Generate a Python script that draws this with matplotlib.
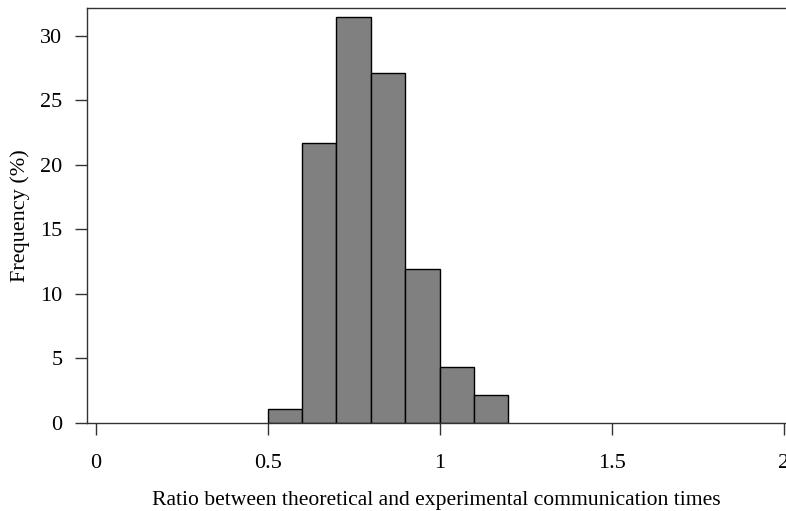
import matplotlib
matplotlib.use('Agg')
import matplotlib.pyplot as plt
import numpy as np

# histogram bins (ratio) and frequency in percent
bin_edges = [0.5, 0.6, 0.7, 0.8, 0.9, 1.0, 1.1, 1.2]
freq_pct = [1.1, 21.7, 31.5, 27.15, 11.9, 4.35, 2.15]
x_ticks = [0, 0.5, 1, 1.5, 2]
x_tick_labels = ['0', '0.5', '1', '1.5', '2']
y_ticks = [0, 5, 10, 15, 20, 25, 30]

plt.rcParams['font.family'] = ['Liberation Serif', 'DejaVu Serif']

fig = plt.figure(figsize=(7.86, 5.11), dpi=100)
ax = fig.add_axes([86.7/786, 88.3/511, 1 - 86.7/786, (422.7 - 8)/511])

lefts = np.array(bin_edges[:-1])
widths = np.diff(bin_edges)
ax.bar(lefts, freq_pct, width=widths, align='edge', color='#808080',
       edgecolor='black', linewidth=1.0)

ax.set_xlim(-0.026, 2.007)
ax.set_ylim(0, 32.17)
ax.set_xticks(x_ticks)
ax.set_xticklabels(x_tick_labels)
ax.set_yticks(y_ticks)

for s in ['left', 'top', 'bottom']:
    ax.spines[s].set_color('#333333')
    ax.spines[s].set_linewidth(1.0)
ax.spines['right'].set_visible(False)

ax.tick_params(axis='both', labelsize=16, length=8.5, width=1.0,
               color='#333333', direction='out')
ax.tick_params(axis='x', pad=14)
ax.tick_params(axis='y', pad=9)

ax.set_xlabel('Ratio between theoretical and experimental communication times',
              fontsize=15.6, labelpad=13)
ax.set_ylabel('Frequency (%)', fontsize=16, labelpad=7)

fig.savefig('out.png', dpi=100)
